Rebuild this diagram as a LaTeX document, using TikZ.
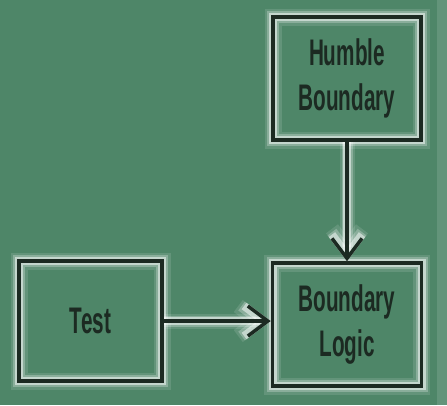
\documentclass[tikz,border=0pt]{standalone}
\usepackage{fontspec}
\setmainfont{Liberation Sans}
\usetikzlibrary{arrows.meta}
\definecolor{board}{RGB}{78,134,104}
\definecolor{chalk}{RGB}{28,42,34}
\newcommand{\narrow}[1]{\scalebox{0.56}[1]{#1}}

\begin{document}
\begin{tikzpicture}[x=1pt,y=-1pt,
  box/.style={draw=chalk, line width=3.5pt,
    preaction={draw=white, line width=17pt, opacity=0.12},
    preaction={draw=white, line width=12pt, opacity=0.25},
    preaction={draw=white, line width=8pt, opacity=0.5},
    inner sep=0pt, align=center, text=chalk,
    font=\fontsize{37}{45}\selectfont\bfseries},
  link/.style={draw=chalk, line width=3.5pt,
    -{Straight Barb[length=20pt,width=30pt]},
    preaction={draw=white, line width=15pt, opacity=0.12},
    preaction={draw=white, line width=11pt, opacity=0.25},
    preaction={draw=white, line width=8pt, opacity=0.5}}]
\fill[board] (0,0) rectangle (447,405);
\fill[white, opacity=0.12] (437,0) rectangle (447,405);
\node [box, minimum width=148pt, minimum height=123pt] (humble) at (347,78.5) {\narrow{Humble}\\\narrow{Boundary}};
\node [box, minimum width=143pt, minimum height=120pt] (test) at (90.5,321) {\narrow{Test}};
\node [box, minimum width=149pt, minimum height=123pt] (logic) at (347,324.5) {\narrow{Boundary}\\\narrow{Logic}};
\draw[link] (humble.south) -- (logic.north);
\draw[link] (test.east) -- (test.east -| logic.west);
\end{tikzpicture}
\end{document}
